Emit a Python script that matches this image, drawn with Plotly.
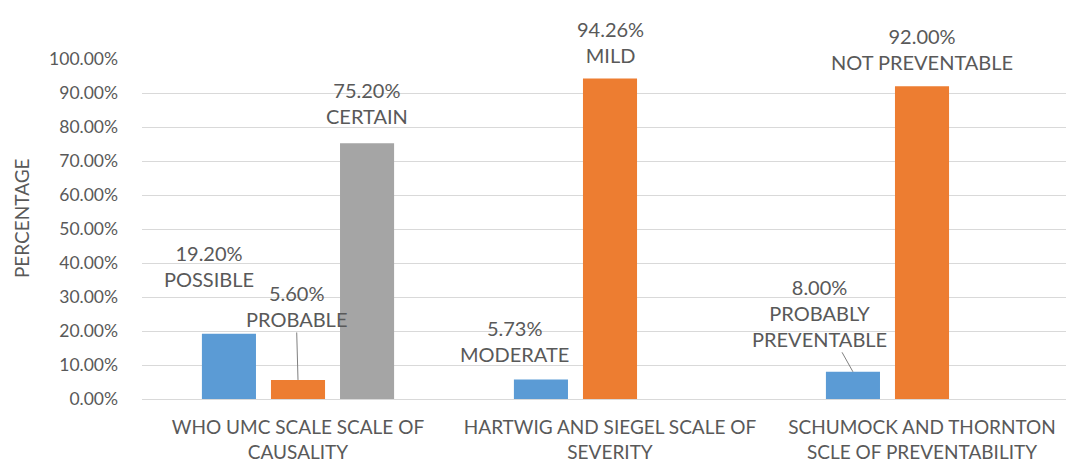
import plotly.graph_objects as go

# Category (scale) names shown on the x axis
categories = [
    "WHO UMC SCALE SCALE OF<br>CAUSALITY",
    "HARTWIG AND SIEGEL SCALE OF<br>SEVERITY",
    "SCHUMOCK AND THORNTON<br>SCLE OF PREVENTABILITY",
]

# Share of reactions per grade (fractions); None where a scale has no third grade
first_grade = [0.1920, 0.0573, 0.0800]
second_grade = [0.0560, 0.9426, 0.9200]
third_grade = [0.7520, None, None]

# Grade names used in the data labels
first_names = ["POSSIBLE", "MODERATE", "PROBABLY<br>PREVENTABLE"]
second_names = ["PROBABLE", "MILD", "NOT PREVENTABLE"]
third_names = ["CERTAIN", None, None]

y_ticks = [0, 0.1, 0.2, 0.3, 0.4, 0.5, 0.6, 0.7, 0.8, 0.9, 1.0]

colors = ["#5B9BD5", "#ED7D31", "#A5A5A5"]
text_color = "#595959"
font_family = "Lato"
BARGAP = 0.336
N_SERIES = 3

# Label placement in pixels relative to the top of each bar:
# (dx, dy, leader line) per series, per category
label_offsets = [
    [(-20, 68, False), (-26, 39, False), (-33, 59, True)],
    [(-2, 74, True), (0, 37, False), (0, 37.5, False)],
    [(0, 40, False), None, None],
]

series_values = [first_grade, second_grade, third_grade]
series_names = [first_names, second_names, third_names]

fig = go.Figure()
x_pos = list(range(len(categories)))
for s, vals in enumerate(series_values):
    fig.add_trace(go.Bar(
        x=x_pos,
        y=vals,
        marker=dict(color=colors[s], line=dict(width=0)),
        showlegend=False,
        hoverinfo="skip",
    ))

slot = (1 - BARGAP) / N_SERIES
annotations = []
for s, vals in enumerate(series_values):
    for i, v in enumerate(vals):
        if v is None:
            continue
        dx, dy, leader = label_offsets[s][i]
        bar_x = i + (s - (N_SERIES - 1) / 2) * slot
        text = f"{v * 100:.2f}%<br>{series_names[s][i]}"
        ann = dict(
            x=bar_x, y=v, xref="x", yref="y",
            text=text,
            font=dict(family=font_family, size=20, color=text_color),
            align="center",
        )
        if leader:
            ann.update(showarrow=True, ax=dx, ay=-dy, arrowhead=0,
                       arrowwidth=1, arrowcolor="#7F7F7F", standoff=0)
        else:
            ann.update(showarrow=False, xshift=dx, yshift=dy,
                       xanchor="center", yanchor="middle")
        annotations.append(ann)

# Vertical axis title
annotations.append(dict(
    text="PERCENTAGE", textangle=-90,
    xref="paper", yref="paper", x=-0.131, y=0.532,
    xanchor="center", yanchor="middle", showarrow=False,
    font=dict(family=font_family, size=19, color=text_color),
))

fig.update_layout(
    width=1066,
    height=464,
    margin=dict(l=142, r=0, t=59, b=65),
    paper_bgcolor="white",
    plot_bgcolor="white",
    barmode="group",
    bargap=BARGAP,
    bargroupgap=0.217,
    font=dict(family=font_family, size=18, color=text_color),
    annotations=annotations,
    xaxis=dict(
        range=[-0.5, 2.4615],
        tickvals=x_pos,
        ticktext=categories,
        showgrid=False,
        showline=False,
        zeroline=False,
        ticks="",
        ticklabelstandoff=15,
        tickfont=dict(family=font_family, size=19, color=text_color),
    ),
    yaxis=dict(
        range=[0, 1.0],
        tickvals=y_ticks,
        tickformat=".2%",
        showgrid=True,
        gridcolor="#D9D9D9",
        gridwidth=1,
        zeroline=True,
        zerolinecolor="#D9D9D9",
        zerolinewidth=1,
        showline=False,
        ticks="",
        ticklabelstandoff=23,
        tickfont=dict(family=font_family, size=17.5, color=text_color),
    ),
)

fig.write_html("out.html")
